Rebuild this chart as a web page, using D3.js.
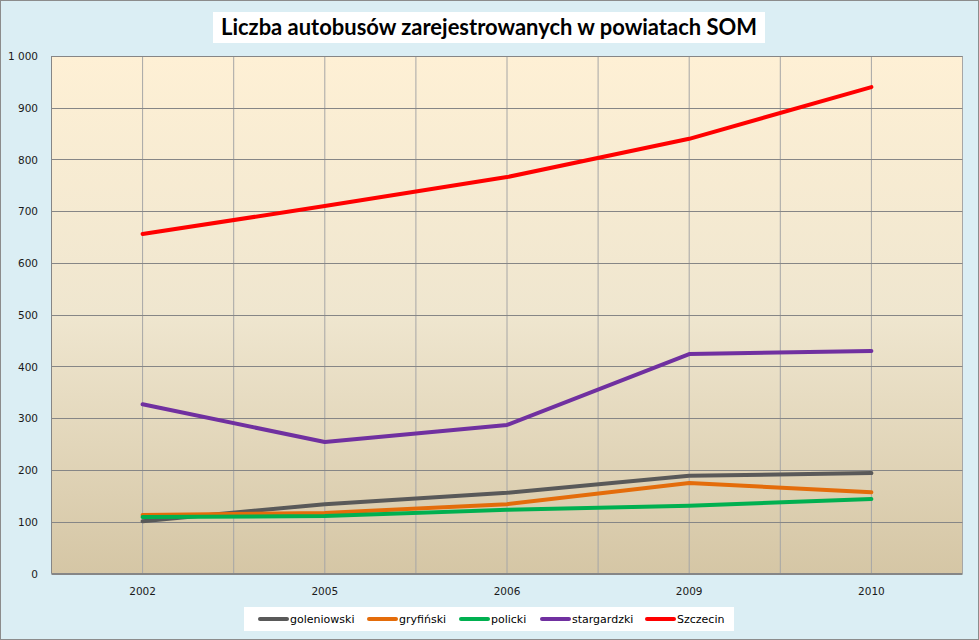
<!DOCTYPE html>
<html><head><meta charset="utf-8">
<script src="https://cdn.jsdelivr.net/npm/d3@7"></script>
<style>body{margin:0;background:#fff}svg{display:block}</style>
</head><body>
<svg id="c" width="979" height="640"></svg>
<script>
const years = ["2002","2005","2006","2009","2010"];
const seriesNames = ["goleniowski","gryfiński","policki","stargardzki","Szczecin"];
const goleniowski = [101,134,156,189,194];
const gryfinski = [113,117,134,175,157];
const policki = [109,111,123,131,144];
const stargardzki = [327,254,287,424,430];
const szczecin = [656,710,766,840,940];
const yTicks = [0,100,200,300,400,500,600,700,800,900,1000];
const colors = ["#595959","#E46C0A","#00B050","#7030A0","#FF0000"];
const title = "Liczba autobusów zarejestrowanych w powiatach SOM";

const values = [goleniowski,gryfinski,policki,stargardzki,szczecin];
const svg = d3.select("#c");
const W=979,H=640;
const L=51.5,R=962.5,T=56,B=573.5;

svg.append("rect").attr("x",0.5).attr("y",0.5).attr("width",W-1).attr("height",H-1)
  .attr("fill","#DBEEF4").attr("stroke","#8C8C8C");

const defs = svg.append("defs");
const g = defs.append("linearGradient").attr("id","bg").attr("x1",0).attr("y1",0).attr("x2",0).attr("y2",1);
g.append("stop").attr("offset","0%").attr("stop-color","#FEF0D5");
g.append("stop").attr("offset","50%").attr("stop-color","#EFE6CF");
g.append("stop").attr("offset","100%").attr("stop-color","#D5C6A5");
svg.append("rect").attr("x",L).attr("y",T).attr("width",R-L).attr("height",B-T).attr("fill","url(#bg)");

const x = d3.scaleBand().domain(years).range([L,R]);
const y = d3.scaleLinear().domain([0,1000]).range([B,T]);

const vx = [];
years.forEach(d=>{vx.push(x(d)); vx.push(x(d)+x.bandwidth()/2);});
vx.push(R);
svg.append("g").selectAll("line").data(vx).join("line")
  .attr("x1",d=>d).attr("x2",d=>d).attr("y1",T).attr("y2",B)
  .attr("stroke","#A6A6A6").attr("stroke-width",1);

svg.append("g").selectAll("line").data(yTicks).join("line")
  .attr("x1",L).attr("x2",R).attr("y1",d=>Math.round(y(d))+0.5).attr("y2",d=>Math.round(y(d))+0.5)
  .attr("stroke","#868686").attr("stroke-width",1);

svg.append("line").attr("x1",L).attr("x2",L).attr("y1",T).attr("y2",B).attr("stroke","#868686");
svg.append("line").attr("x1",L).attr("x2",R).attr("y1",B).attr("y2",B).attr("stroke","#868686");

const fmt = d=> d>=1000 ? d3.format(",")(d).replace(","," ") : String(d);
svg.append("g").selectAll("text").data(yTicks).join("text")
  .attr("x",38).attr("y",d=>y(d)+4).attr("text-anchor","end")
  .attr("font-family","DejaVu Sans, Verdana, sans-serif").attr("font-size",10.5).attr("fill","#1a1a1a")
  .text(fmt);

svg.append("g").selectAll("text").data(years).join("text")
  .attr("x",d=>x(d)+x.bandwidth()/2).attr("y",595).attr("text-anchor","middle")
  .attr("font-family","DejaVu Sans, Verdana, sans-serif").attr("font-size",10.5).attr("fill","#1a1a1a")
  .text(d=>d);

const line = d3.line().x((d,i)=>x(years[i])+x.bandwidth()/2).y(d=>y(d));
svg.append("g").selectAll("path").data(values).join("path")
  .attr("d",d=>line(d)).attr("fill","none")
  .attr("stroke",(d,i)=>colors[i]).attr("stroke-width",4)
  .attr("stroke-linejoin","round").attr("stroke-linecap","round");

svg.append("rect").attr("x",213).attr("y",12).attr("width",552).attr("height",31).attr("fill","#fff");
svg.append("text").attr("x",489).attr("y",35).attr("text-anchor","middle")
  .attr("font-family","Lato, Open Sans, sans-serif").attr("font-weight","bold")
  .attr("font-size",22).attr("fill","#000").attr("textLength",536).attr("lengthAdjust","spacingAndGlyphs")
  .text(title);

svg.append("rect").attr("x",244).attr("y",607).attr("width",490).attr("height",24).attr("fill","#fff");
const lx = [260,369,461,542,647];
const lg = svg.append("g").selectAll("g").data(seriesNames).join("g")
  .attr("transform",(d,i)=>`translate(${lx[i]},619)`);
lg.append("line").attr("x1",0).attr("x2",27).attr("y1",0).attr("y2",0)
  .attr("stroke",(d,i)=>colors[i]).attr("stroke-width",4).attr("stroke-linecap","round");
lg.append("text").attr("x",30).attr("y",4)
  .attr("font-family","DejaVu Sans, Verdana, sans-serif").attr("font-size",11).attr("fill","#000")
  .text(d=>d);
</script>
</body></html>
